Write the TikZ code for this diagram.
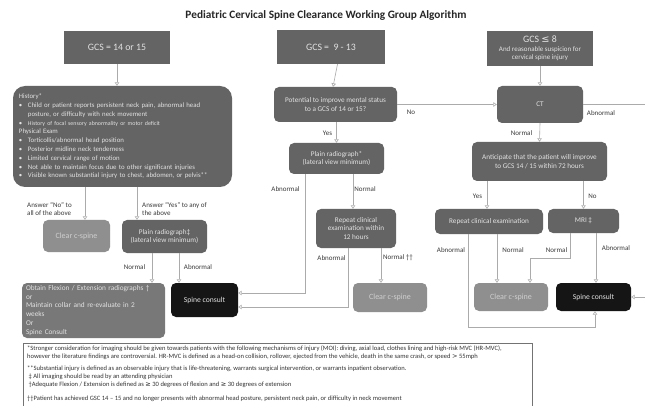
\documentclass[tikz,border=0pt]{standalone}
\usepackage{fontspec}
\setmainfont{Carlito}
\newfontfamily\symfont{DejaVu Sans}
\usetikzlibrary{arrows.meta}
\definecolor{boxdark}{HTML}{646464}
\definecolor{boxlight}{HTML}{8F8F8F}
\definecolor{boxmid}{HTML}{787878}
\definecolor{boxblack}{HTML}{151515}
\definecolor{linegray}{HTML}{ABABAB}
\definecolor{boxtext}{HTML}{E2E2E2}
\definecolor{lighttext}{HTML}{CFCFCF}
\definecolor{labeltext}{HTML}{3A3A3A}
\newcommand\hbul{\makebox[9pt][l]{•}}
\tikzset{
  basebox/.style={draw=none, text=boxtext, align=center, inner sep=1pt, font=\fontsize{7.2}{8.4}\selectfont},
  gcsbox/.style={basebox, fill=boxdark, font=\fontsize{9.8}{11}\selectfont},
  darkbox/.style={basebox, fill=boxdark, rounded corners=5pt},
  clearbox/.style={basebox, fill=boxlight, rounded corners=5pt, text=lighttext, font=\fontsize{8}{9}\selectfont},
  midbox/.style={basebox, fill=boxmid, rounded corners=5pt},
  spinebox/.style={basebox, fill=boxblack, rounded corners=5pt, text=boxtext, font=\fontsize{7.6}{9}\selectfont},
  arr/.style={draw=linegray, line width=0.6pt, -{Triangle[open, length=3.5pt, width=4.5pt]}},
  lbl/.style={text=labeltext, font=\fontsize{7}{8.2}\selectfont, inner sep=0pt, align=left},
  titletext/.style={text=black!85, font=\bfseries\fontsize{11.3}{13}\selectfont, inner sep=0pt},
  fnframe/.style={draw=black!55, line width=0.5pt, fill=white},
  fntext/.style={text=black!80, font=\fontsize{6.55}{8}\selectfont, inner sep=0pt, align=left, anchor=north west}
}
\begin{document}
\begin{tikzpicture}[x=1pt,y=-1pt]
\useasboundingbox[fill=white] (0,0) rectangle (645,406);

\node[titletext] (title) at (326,15) {Pediatric Cervical Spine Clearance Working Group Algorithm};

% top GCS boxes
\node[gcsbox, minimum width=106, minimum height=33] (g1) at (117,47.5) {GCS = 14 or 15};
\node[gcsbox, minimum width=108, minimum height=34] (g2) at (331,47) {GCS =\ \ 9 - 13};
\node[gcsbox, minimum width=106, minimum height=35] (g3) at (540,48.5)
  {GCS {\symfont ≤} 8\\[-2pt]{\fontsize{7}{7.6}\selectfont And reasonable suspicion for}\\[-2.5pt]{\fontsize{7}{7.6}\selectfont cervical spine injury}};

% left column
\node[darkbox, rounded corners=12pt, minimum width=219, minimum height=101, text width=207,
      align=left, inner xsep=6pt, font=\fontsize{6.8}{8.8}\selectfont] (hist) at (122.5,136.5)
 {History*\\
  \hbul Child or patient reports persistent neck pain, abnormal head\\
  \hspace*{9pt}posture, or difficulty with neck movement\\
  \hbul {\fontsize{5.9}{8.8}\selectfont History of focal sensory abnormality or motor deficit}\\
  Physical Exam\\
  \hbul Torticollis/abnormal head position\\
  \hbul Posterior midline neck tenderness\\
  \hbul Limited cervical range of motion\\
  \hbul Not able to maintain focus due to other significant injuries\\
  \hbul Visible known substantial injury to chest, abdomen, or pelvis**};

\node[clearbox, minimum width=67, minimum height=32] (c1) at (76.5,236) {Clear c-spine};
\node[darkbox, minimum width=85, minimum height=33] (p1) at (164.5,236.5) {Plain radiograph‡\\(lateral view minimum)};
\node[midbox, minimum width=143, minimum height=55, text width=135, align=left, inner xsep=4pt,
      font=\fontsize{7.3}{8.9}\selectfont] (ob) at (93.5,310.5)
 {Obtain Flexion / Extension radiographs †\\or\\Maintain collar and re-evaluate in 2\\weeks\\Or\\Spine Consult};
\node[spinebox, minimum width=67, minimum height=34] (s1) at (204.5,300) {Spine consult};

% middle column
\node[darkbox, minimum width=123, minimum height=35] (pot) at (335.5,104.5) {Potential to improve mental status\\to a GCS of 14 or 15?};
\node[darkbox, minimum width=95, minimum height=31] (p2) at (336.5,158.5) {Plain radiograph*\\(lateral view minimum)};
\node[darkbox, minimum width=80, minimum height=39] (r2) at (356,228.5) {Repeat clinical\\examination within\\12 hours};
\node[clearbox, minimum width=74, minimum height=29] (c2) at (390,297.5) {Clear c-spine};

% right column
\node[darkbox, minimum width=86, minimum height=37] (ct) at (540,104.5) {CT};
\node[darkbox, minimum width=135, minimum height=39] (ant) at (539.5,161.5) {Anticipate that the patient will improve\\to GCS 14 / 15 within 72 hours};
\node[darkbox, minimum width=108, minimum height=25] (r3) at (489,221.5) {Repeat clinical examination};
\node[darkbox, minimum width=71, minimum height=24] (mri) at (583.5,221) {MRI ‡};
\node[clearbox, minimum width=74, minimum height=28] (c3) at (511,297) {Clear c-spine};
\node[spinebox, minimum width=75, minimum height=28] (s3) at (593.5,297) {Spine consult};

% connectors
\draw[arr] (g1.south) -- (g1.south |- hist.north);
\draw[arr] (g2.south -| pot.north) ++(2,0) -- ([xshift=-2.5pt]pot.north);
\draw[arr] (g3.south) -- (ct.north);
\draw[arr] ([xshift=-37.5pt]hist.south) -- ([xshift=8.5pt]c1.north);
\draw[arr] ([xshift=14.5pt]hist.south) -- ([xshift=-27.5pt]p1.north);
\draw[arr] ([xshift=-12.5pt]p1.south) -- ([xshift=58.5pt]ob.north);
\draw[arr] ([xshift=14.5pt]p1.south) -- ([xshift=-25.5pt]s1.north);
\draw[arr] (pot.east) -- (ct.west);
\draw[arr] (p2.north |- pot.south) -- (p2.north);
\draw[arr] ([xshift=-31.5pt]p2.south) |- ([yshift=7pt]s1.east);
\draw[arr] ([xshift=16.5pt]p2.south) -- ([xshift=-3pt]r2.north);
\draw[arr] ([xshift=-8pt]r2.south) |- ([yshift=-7pt]s1.east);
\draw[arr] ([xshift=25pt]r2.south) -- ([xshift=-9pt]c2.north);
\draw[arr] (ct.south) -- (ant.north);
\draw[arr] (ct.east) -- ++(75,0) |- (s3.east);
\draw[arr] ([xshift=-52.5pt]ant.south) -- ([xshift=-2pt]r3.north);
\draw[arr] (mri.north |- ant.south) -- (mri.north);
\draw[arr] ([xshift=-21pt]r3.south) -- ++(0,93) -| ([xshift=1.5pt]s3.south);
\draw[arr] ([xshift=8pt]r3.south) -- ([xshift=-14pt]c3.north);
\draw[arr] ([xshift=-13.5pt]mri.south) -- ++(0,25) -| ([xshift=19pt]c3.north);
\draw[arr] ([xshift=12.5pt]mri.south) -- ([xshift=2.5pt]s3.north);

% labels
\node[lbl, anchor=west] (lNo1) at (27,209) {Answer ``No'' to\\all of the above};
\node[lbl, anchor=west] (lYes1) at (142,209) {Answer ``Yes'' to any of\\the above};
\node[lbl] (lN1) at (134.5,267) {Normal};
\node[lbl] (lA1) at (198,267) {Abnormal};
\node[lbl] (lNo2) at (411,112) {No};
\node[lbl] (lYes2) at (327.5,133) {Yes};
\node[lbl] (lA2) at (285.5,189) {Abnormal};
\node[lbl] (lN2) at (365,189) {Normal};
\node[lbl] (lA3) at (331.5,258) {Abnormal};
\node[lbl] (lN3) at (398,258) {Normal ††};
\node[lbl] (lA4) at (601,113) {Abnormal};
\node[lbl] (lN4) at (521.5,133) {Normal};
\node[lbl] (lYes3) at (477.5,196) {Yes};
\node[lbl] (lNo3) at (592.5,196) {No};
\node[lbl] (lA5) at (451,250) {Abnormal};
\node[lbl] (lN5) at (513,250) {Normal};
\node[lbl] (lN6) at (556.5,250) {Normal};
\node[lbl] (lA6) at (616,248) {Abnormal};

% footnotes
\node[fnframe, anchor=north west, minimum width=509, minimum height=75] (fn) at (23,343) {};
\node[fntext] (fntxt) at (27,346)
 {*Stronger consideration for imaging should be given towards patients with the following mechanisms of injury (MOI): diving, axial load, clothes lining and high-risk MVC (HR-MVC),\\
  however the literature findings are controversial. HR-MVC is defined as a head-on collision, rollover, ejected from the vehicle, death in the same crash, or speed {\symfont >} 55mph\\[4pt]
  **Substantial injury is defined as an observable injury that is life-threatening, warrants surgical intervention, or warrants inpatient observation.\\
  \ ‡ All imaging should be read by an attending physician\\
  \ †Adequate Flexion / Extension is defined as {\symfont ≥} 30 degrees of flexion and {\symfont ≥} 30 degrees of extension\\[6pt]
  ††Patient has achieved GSC 14 -- 15 and no longer presents with abnormal head posture, persistent neck pain, or difficulty in neck movement};
\end{tikzpicture}
\end{document}
